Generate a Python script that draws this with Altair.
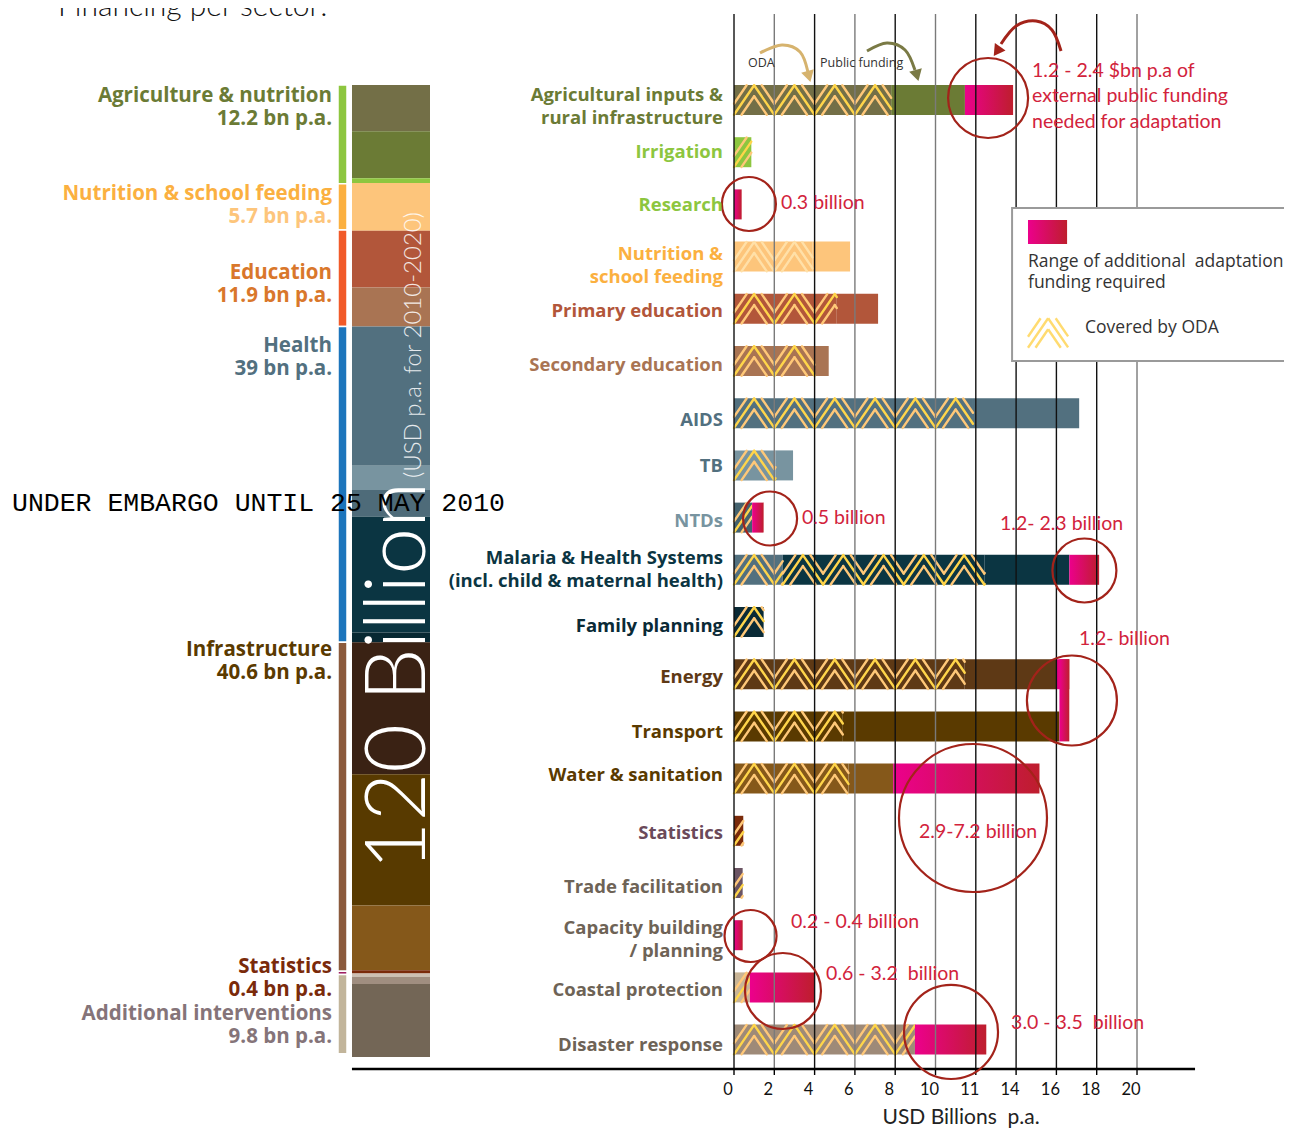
import altair as alt
import pandas as pd

# ---------------- chart values ----------------
row_labels = [
    "Agricultural inputs &\nrural infrastructure", "Irrigation", "Research",
    "Nutrition &\nschool feeding", "Primary education", "Secondary education",
    "AIDS", "TB", "NTDs", "Malaria & Health Systems\n(incl. child & maternal health)",
    "Family planning", "Energy", "Transport", "Water & sanitation", "Statistics",
    "Trade facilitation", "Capacity building\n/ planning", "Coastal protection",
    "Disaster response",
]
row_label_colors = [
    "#6B7B35", "#8DC63F", "#8DC63F", "#FBB040", "#B2563A", "#A97453", "#52707F",
    "#52707F", "#7894A0", "#0B3542", "#0A2A36", "#5E3915", "#5A3A00", "#5A3A00",
    "#6B4A5A", "#6E6356", "#6E6356", "#6E6356", "#6E6356",
]
row_label_dy = [-5, 0, 1, -3, 2, 4, 7, 1, 3, -12, 4, 3, 6, -4, 2, 4, -7, 3, 5]

# bar segments (ODA-covered and public funding), USD bn p.a.
seg_row = [0, 0, 1, 3, 3, 4, 4, 5, 5, 6, 6, 7, 7, 8, 9, 9, 9, 10, 11, 11, 12, 12, 13, 13, 14, 15, 17, 18]
seg_start = [0, 7.8, 0, 0, 3.9, 0, 5.1, 0, 4.0, 0, 11.86, 0, 2.06, 0, 0, 2.42, 12.44, 0, 0, 11.45,
             0, 5.4, 0, 5.68, 0, 0, 0, 0]
seg_end = [7.8, 11.46, 0.86, 3.9, 5.76, 5.1, 7.15, 4.0, 4.7, 11.86, 17.13, 2.06, 2.93, 0.9, 2.42,
           12.44, 16.64, 1.47, 11.45, 16.03, 5.4, 16.15, 5.68, 7.9, 0.46, 0.43, 0.79, 8.98]
seg_oda = [1, 0, 1, 1, 0, 1, 0, 1, 0, 1, 0, 1, 0, 1, 1, 1, 0, 1, 1, 0, 1, 0, 1, 0, 1, 1, 1, 1]
seg_color = ["#736F47", "#6B7B35", "#8DC63F", "#FDC57B", "#FDC57B", "#B2563A", "#B2563A",
             "#A97453", "#A97453", "#52707F", "#52707F", "#7894A0", "#7894A0", "#44626E",
             "#52707F", "#0B3542", "#0B3542", "#0A2A36", "#5E3915", "#5E3915", "#5A3A00",
             "#5A3A00", "#85581A", "#85581A", "#7A2A0A", "#6B5463", "#C8B496", "#9E8A78"]

# additional adaptation funding ranges
gap_row_from = [0, 2, 8, 9, 11, 11, 13, 16, 17, 18]
gap_row_to = [0, 2, 8, 9, 11, 12, 13, 16, 17, 18]
gap_start = [11.46, 0, 0.9, 16.64, 16.03, 16.15, 7.9, 0, 0.79, 8.98]
gap_end = [13.85, 0.38, 1.47, 18.12, 16.64, 16.64, 15.16, 0.43, 4.0, 12.52]

# left column: 120 bn split
stack_values = [5.7, 5.8, 0.6, 5.9, 7.0, 4.8, 17.2, 3.0, 3.3, 14.3, 1.2, 16.3, 16.2, 8.0, 0.4, 0.4, 0.9, 9.0]
stack_colors = ["#736F47", "#6B7B35", "#8DC63F", "#FDC57B", "#B2563A", "#A97453", "#52707F",
                "#7894A0", "#4E6B79", "#0B3542", "#072832", "#3A2214", "#583A00", "#85581A",
                "#7A2A0A", "#CDBFB2", "#A08E80", "#736656"]
group_names = ["Agriculture & nutrition", "Nutrition & school feeding", "Education", "Health",
               "Infrastructure", "Statistics", "Additional interventions"]
group_values = [12.2, 5.7, 11.9, 39, 40.6, 0.4, 9.8]
group_bar_colors = ["#8DC63F", "#FBB040", "#F15A29", "#1C75BC", "#8B5A3C", "#9E1F63", "#C2B59B"]
group_name_colors = ["#6B7B35", "#FBB040", "#D9772B", "#52707F", "#5A3A00", "#7A2A0A", "#857479"]
group_value_colors = ["#6B7B35", "#FDC57B", "#D9772B", "#52707F", "#5A3A00", "#7A2A0A", "#857479"]
group_label_pos = [1.36, 13.46, 23.2, 32.2, 69.75, 108.9, 114.7]

# axis
tick_values = [0, 2, 4, 6, 8, 10, 12, 14, 16, 18, 20]
tick_labels = ["0", "2", "4", "6", "8", "10", "11", "14", "16", "18", "20"]
grid_grey = [2, 6, 10, 20]
axis_title = "USD Billions\u00a0 p.a."

# annotations (value, row)
note_x = [14.79, 2.33, 3.37, 13.20, 17.12, 9.18, 2.83, 4.57, 13.75]
note_row = [-0.556, 1.973, 8.008, 8.123, 10.326, 14.023, 15.747, 16.743, 17.682]
note_text = ["1.2 - 2.4 $bn p.a of\nexternal public funding\nneeded for adaptation", "0.3 billion",
             "0.5 billion", "1.2- 2.3 billion", "1.2- billion", "2.9-7.2 billion",
             "0.2 - 0.4 billion", "0.6 - 3.2\u00a0 billion", "3.0 - 3.5\u00a0 billion"]
circle_x = [12.61, 0.74, 1.79, 17.39, 16.77, 11.86, 0.82, 2.43, 10.77]
circle_row = [-0.038, 1.992, 8.017, 9.013, 11.504, 13.755, 16.015, 17.069, 17.854]
circle_r = [40, 27, 27, 32, 45, 74, 26, 38, 47]

arrow_id = [0, 0, 0, 0, 1, 1, 1, 1, 2, 2, 2, 2, 2]
arrow_x = [1.29, 2.38, 3.28, 3.67, 6.60, 7.59, 8.49, 8.98, 16.23, 15.78, 14.99, 14.00, 13.25]
arrow_row = [-0.900, -1.054, -0.920, -0.536, -0.939, -1.092, -0.958, -0.575, -0.939, -1.341,
             -1.513, -1.418, -1.073]
arrow_color = ["#D6B36E", "#7A7A45", "#A3231A"]
head_x = [3.72, 9.08, 13.05]
head_row = [-0.45, -0.47, -0.93]
head_angle = [345, 345, 35]

# ---------------- layout ----------------
W, H = 1276, 1121
PX_PER_ROW = 52.2
xs = alt.Scale(domain=[-36.030, 27.295], nice=False, zero=False)
rs = alt.Scale(domain=[-1.7625, 19.7126], nice=False, zero=False, reverse=True)
bs = alt.Scale(domain=[-9.506, 128.889], nice=False, zero=False, reverse=True)
HALF = 0.2874
GRID_TOP = -1.648
AXIS_ROW = 18.5632
TICK_LABEL_ROW = 18.966
AXIS_TITLE_ROW = 19.50
AXIS_TITLE_X = 11.27
FONT = "Lato"
LABEL_FONT = "Open Sans"
RED = "#D2233C"

X = lambda f: alt.X(f, type="quantitative", scale=xs, axis=None)
YR = lambda f: alt.Y(f, type="quantitative", scale=rs, axis=None)
YB = lambda f: alt.Y(f, type="quantitative", scale=bs, axis=None)

# ---------- left column ----------
stack_df = pd.DataFrame({"i": range(len(stack_values)), "v": stack_values, "c": stack_colors})
stack = alt.Chart(stack_df).transform_window(
    cum="sum(v)", sort=[alt.SortField("i")]
).transform_calculate(start="datum.cum - datum.v").mark_rect().encode(
    x=alt.value(344), x2=alt.value(422), y=YB("start"), y2="cum:Q",
    color=alt.Color("c:N", scale=None))

grp_df = pd.DataFrame({"i": range(len(group_values)), "v": group_values, "c": group_bar_colors,
                       "name": group_names, "nc": group_name_colors, "vc": group_value_colors,
                       "pos": group_label_pos,
                       "vt": [f"{v:g} bn p.a." for v in group_values]})
thin = alt.Chart(grp_df).transform_window(
    cum="sum(v)", sort=[alt.SortField("i")]
).transform_calculate(start="datum.cum - datum.v").mark_rect(stroke="white", strokeWidth=1.5).encode(
    x=alt.value(330), x2=alt.value(339), y=YB("start"), y2="cum:Q",
    color=alt.Color("c:N", scale=None))

grp_name = alt.Chart(grp_df).mark_text(align="right", baseline="middle", font=LABEL_FONT,
                                       fontWeight="bold", fontSize=20.5).encode(
    x=alt.value(324), y=YB("pos"), text="name:N", color=alt.Color("nc:N", scale=None))
grp_val = alt.Chart(grp_df).mark_text(align="right", baseline="middle", font=LABEL_FONT,
                                      fontWeight="bold", fontSize=20.5, dy=23).encode(
    x=alt.value(324), y=YB("pos"), text="vt:N", color=alt.Color("vc:N", scale=None))

big = alt.Chart(pd.DataFrame({"t": ["120 Billion"]})).mark_text(
    angle=270, align="center", baseline="alphabetic", font=FONT, fontWeight=300,
    fontSize=84, color="white").encode(x=alt.value(417), y=alt.value(668), text="t:N")
sub = alt.Chart(pd.DataFrame({"t": ["(USD p.a. for 2010-2020)"]})).mark_text(
    angle=270, align="center", baseline="alphabetic", font=FONT, fontWeight=300,
    fontSize=24, color="white", opacity=0.85).encode(x=alt.value(413), y=alt.value(337), text="t:N")

# ---------- bars ----------
seg_df = pd.DataFrame({"row": seg_row, "x0": seg_start, "x1": seg_end, "c": seg_color})
bars = alt.Chart(seg_df).transform_calculate(
    y0=f"datum.row - {HALF}", y1=f"datum.row + {HALF}").mark_rect().encode(
    x=X("x0"), x2="x1:Q", y=YR("y0"), y2="y1:Q", color=alt.Color("c:N", scale=None))

# nested-chevron "covered by ODA" pattern, clipped to each ODA segment
PAT_H = 1.0
PAT_VOFF = [-11, 0, 11]
PAT_COLS = ["#FFC878", "#FFD54A", "#FFC878"]


def clip_seg(xa, ya, xb, yb, x0, x1, y0, y1):
    dx, dy = xb - xa, yb - ya
    u0, u1 = 0.0, 1.0
    for p, q in ((-dx, xa - x0), (dx, x1 - xa), (-dy, ya - y0), (dy, y1 - ya)):
        if p == 0:
            if q < 0:
                return None
        else:
            t = q / p
            if p < 0:
                u0 = max(u0, t)
            else:
                u1 = min(u1, t)
    if u0 >= u1:
        return None
    return (xa + u0 * dx, ya + u0 * dy, xa + u1 * dx, ya + u1 * dy)


def chevrons(x0, x1, rc, amp):
    out = []
    for j, vo in enumerate(PAT_VOFF):
        off = vo / PX_PER_ROW
        k = 0
        xv = x0 - 2 * PAT_H
        while xv < x1 + PAT_H:
            ya = rc + off + (amp if k % 2 == 0 else -amp)
            yb = rc + off + (-amp if k % 2 == 0 else amp)
            c = clip_seg(xv, ya, xv + PAT_H, yb, x0, x1, rc - amp, rc + amp)
            if c:
                out.append(c + (j,))
            xv += PAT_H
            k += 1
    return out


pat_rows = []
for r, a, b, o in zip(seg_row, seg_start, seg_end, seg_oda):
    if not o:
        continue
    for (xa, ya, xb, yb, j) in chevrons(a, b, r, HALF * 0.98):
        col = "#FFE0A8" if r == 3 else PAT_COLS[j]
        pat_rows.append({"x": xa, "y": ya, "x2": xb, "y2": yb, "c": col})
pat_df = pd.DataFrame(pat_rows)
pattern = alt.Chart(pat_df).mark_rule(strokeWidth=2.4, strokeCap="round").encode(
    x=X("x"), x2="x2:Q", y=YR("y"), y2="y2:Q", color=alt.Color("c:N", scale=None))

leg_pat_df = pd.DataFrame([{"x": xa, "y": ya, "x2": xb, "y2": yb}
                           for (xa, ya, xb, yb, j) in chevrons(14.59, 16.58, 4.4635, HALF * 0.98)])
leg_pattern = alt.Chart(leg_pat_df).mark_rule(strokeWidth=2.4, color="#FFDB70").encode(
    x=X("x"), x2="x2:Q", y=YR("y"), y2="y2:Q")

grad = alt.Gradient(gradient="linear", x1=0, x2=1, y1=0, y2=0,
                    stops=[alt.GradientStop(color="#EC008C", offset=0),
                           alt.GradientStop(color="#BE1E2D", offset=1)])
gap_df = pd.DataFrame({"r0": gap_row_from, "r1": gap_row_to, "x0": gap_start, "x1": gap_end})
gaps = alt.Chart(gap_df).transform_calculate(
    y0=f"datum.r0 - {HALF}", y1=f"datum.r1 + {HALF}").mark_rect(fill=grad).encode(
    x=X("x0"), x2="x1:Q", y=YR("y0"), y2="y1:Q")

# ---------- grid + value axis ----------
grid_df = pd.DataFrame({"v": tick_values, "lab": tick_labels,
                        "c": ["#7A7A7A" if v in grid_grey else "#111111" for v in tick_values],
                        "top": GRID_TOP, "bot": AXIS_ROW,
                        "tk": AXIS_ROW + 6 / PX_PER_ROW, "ly": TICK_LABEL_ROW})
grid = alt.Chart(grid_df).mark_rule(strokeWidth=1.4).encode(
    x=X("v"), y=YR("top"), y2="bot:Q", color=alt.Color("c:N", scale=None))
ticks = alt.Chart(grid_df).mark_rule(strokeWidth=1.4, color="#000").encode(
    x=X("v"), y=YR("bot"), y2="tk:Q")
tick_text = alt.Chart(grid_df).mark_text(align="center", baseline="middle", font=FONT,
                                         fontSize=16.5, color="#111", dx=-6).encode(
    x=X("v"), y=YR("ly"), text="lab:N")
title_x = alt.Chart(pd.DataFrame({"x": [AXIS_TITLE_X], "y": [AXIS_TITLE_ROW], "t": [axis_title]})).mark_text(
    align="center", baseline="middle", font=FONT, fontSize=21, color="#222").encode(
    x=X("x"), y=YR("y"), text="t:N")

base_line = alt.Chart(pd.DataFrame({"a": [-18.96], "b": [22.88], "y": [AXIS_ROW]})).mark_rule(
    strokeWidth=2.5, color="#000").encode(x=X("a"), x2="b:Q", y=YR("y"))

# ---------- legend ----------
leg_box = alt.Chart(pd.DataFrame({"a": [13.80], "b": [28.0], "t": [2.069], "u": [5.0]})).mark_rect(
    fill="white", stroke="#9A9A9A", strokeWidth=2).encode(x=X("a"), x2="b:Q", y=YR("t"), y2="u:Q")
leg_pink = alt.Chart(pd.DataFrame({"a": [14.59], "b": [16.53], "t": [2.299], "u": [2.759]})).mark_rect(
    fill=grad).encode(x=X("a"), x2="b:Q", y=YR("t"), y2="u:Q")
leg_text = alt.Chart(pd.DataFrame({
    "x": [14.59, 17.42], "y": [3.103, 4.368],
    "t": ["Range of additional\u00a0 adaptation\nfunding required", "Covered by ODA"]})).mark_text(
    align="left", baseline="middle", font="Open Sans", fontSize=17.5, color="#333",
    lineBreak="\n", lineHeight=21).encode(x=X("x"), y=YR("y"), text="t:N")

# ---------- annotations ----------
circ_df = pd.DataFrame({"x": circle_x, "y": circle_row, "r": circle_r})
circles = alt.Chart(circ_df).transform_calculate(sz="4 * datum.r * datum.r").mark_point(
    shape="circle", filled=False, stroke="#A3231A", strokeWidth=2.2, opacity=1).encode(
    x=X("x"), y=YR("y"), size=alt.Size("sz:Q", scale=None))

note_df = pd.DataFrame({"x": note_x, "y": note_row, "t": note_text})
notes = alt.Chart(note_df).mark_text(align="left", baseline="middle", font=FONT, fontSize=19.5,
                                     color=RED, lineBreak="\n", lineHeight=25.5).encode(
    x=X("x"), y=YR("y"), text="t:N")

arr_df = pd.DataFrame({"id": arrow_id, "k": range(len(arrow_id)), "x": arrow_x, "y": arrow_row,
                       "c": [arrow_color[i] for i in arrow_id]})
arrows = alt.Chart(arr_df).mark_line(strokeWidth=3, interpolate="cardinal").encode(
    x=X("x"), y=YR("y"), detail="id:N", order="k:Q", color=alt.Color("c:N", scale=None))
head_df = pd.DataFrame({"x": head_x, "y": head_row, "a": head_angle, "c": arrow_color})
heads = alt.Chart(head_df).mark_point(shape="triangle-down", filled=True, size=170, opacity=1).encode(
    x=X("x"), y=YR("y"), angle=alt.Angle("a:Q", scale=None), color=alt.Color("c:N", scale=None))
flow_text = alt.Chart(pd.DataFrame({"x": [0.69, 4.27], "y": [-0.709, -0.709],
                                    "t": ["ODA", "Public funding"]})).mark_text(
    align="left", baseline="middle", font="Open Sans", fontSize=12.5, color="#333").encode(
    x=X("x"), y=YR("y"), text="t:N")

# ---------- row labels ----------
lab_df = pd.DataFrame({"t": row_labels, "c": row_label_colors,
                       "y": [i + d / PX_PER_ROW for i, d in enumerate(row_label_dy)]})
labels = alt.Chart(lab_df).mark_text(align="right", baseline="middle", font=LABEL_FONT,
                                     fontWeight="bold", fontSize=18.5, lineBreak="\n",
                                     lineHeight=23).encode(
    x=alt.value(715), y=YR("y"), text="t:N", color=alt.Color("c:N", scale=None))

title = alt.Chart(pd.DataFrame({"t": ["Financing per sector:"]})).mark_text(
    align="left", baseline="alphabetic", font=FONT, fontWeight=300, fontSize=30,
    color="#111").encode(x=alt.value(50), y=alt.value(8), text="t:N")
embargo = alt.Chart(pd.DataFrame({"t": ["UNDER EMBARGO UNTIL 25 MAY 2010"]})).mark_text(
    align="left", baseline="middle", font="Liberation Mono", fontSize=26.5,
    color="#000").encode(x=alt.value(4), y=alt.value(495), text="t:N")

chart = alt.layer(
    stack, thin, grp_name, grp_val, big, sub,
    bars, pattern, gaps, grid, ticks, base_line, tick_text, title_x,
    leg_box, leg_pink, leg_pattern, leg_text,
    circles, notes, arrows, heads, flow_text, labels, title, embargo,
).resolve_scale(y="independent").properties(
    width=W, height=H, padding=0,
    autosize=alt.AutoSizeParams(type="none"), background="white",
).configure_view(stroke=None)

chart.save("out.html", embed_options={"renderer": "svg", "actions": False})
